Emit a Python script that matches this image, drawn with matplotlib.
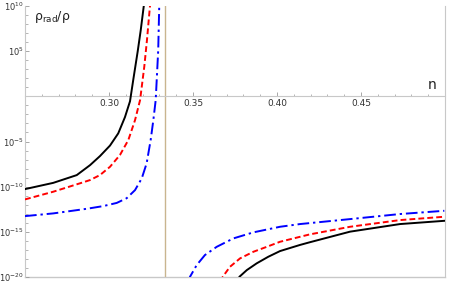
import numpy as np
from matplotlib import pyplot as plt
from matplotlib.ticker import (FixedLocator, FuncFormatter, MultipleLocator,
                               NullFormatter)

# values: n and log10(rho_rad/rho)
black_left_n = [0.2500, 0.2668, 0.2808, 0.2887, 0.2946, 0.3006, 0.3055, 0.3095,
                0.3125, 0.3145, 0.3171, 0.3189, 0.3207, 0.3215]
black_left_exp = [-10.27, -9.58, -8.72, -7.62, -6.62, -5.45, -4.10, -2.30,
                  -0.55, 1.90, 5.00, 7.34, 10.0, 11.5]
red_left_n = [0.2500, 0.2668, 0.2827, 0.2887, 0.2946, 0.3006, 0.3065, 0.3115,
              0.3155, 0.3185, 0.3210, 0.3226, 0.3240, 0.3244, 0.3248]
red_left_exp = [-11.41, -10.56, -9.63, -9.27, -8.72, -7.80, -6.50, -4.84,
                -2.63, -0.41, 3.28, 6.23, 9.19, 10.0, 11.0]
blue_left_n = [0.2500, 0.2668, 0.2867, 0.2966, 0.3046, 0.3105, 0.3155, 0.3195,
               0.3224, 0.3248, 0.3264, 0.3278, 0.3293, 0.3299, 0.3302]
blue_left_exp = [-13.26, -12.96, -12.45, -12.15, -11.80, -11.28, -10.38, -9.08,
                 -7.42, -4.84, -2.62, -0.41, 5.13, 10.0, 11.0]

black_right_n = [0.3762, 0.3776, 0.3820, 0.3879, 0.3948, 0.4018, 0.4137, 0.4196,
                 0.4435, 0.4732, 0.4996]
black_right_exp = [-21.0, -19.98, -19.24, -18.49, -17.76, -17.13, -16.45, -16.15,
                   -14.98, -14.14, -13.78]
red_right_n = [0.3662, 0.3677, 0.3720, 0.3780, 0.3859, 0.3939, 0.4018, 0.4137,
               0.4196, 0.4435, 0.4732, 0.4996]
red_right_exp = [-21.0, -19.98, -18.87, -17.94, -17.21, -16.66, -16.10, -15.55,
                 -15.28, -14.44, -13.70, -13.33]
blue_right_n = [0.3470, 0.3482, 0.3522, 0.3571, 0.3641, 0.3740, 0.3859, 0.4018,
                0.4137, 0.4435, 0.4732, 0.4996]
blue_right_exp = [-21.0, -19.98, -18.68, -17.57, -16.66, -15.73, -15.06, -14.44,
                  -14.14, -13.59, -13.03, -12.67]

asymptote = 1 / 3
x_ticks = [0.30, 0.35, 0.40, 0.45]
y_major = [-20, -15, -10, -5, 0, 5, 10]

fig = plt.figure(figsize=(4.54, 2.81), dpi=100)
ax = fig.add_axes([25 / 454, 4 / 281, 420 / 454, 271 / 281])

ax.set_yscale('log')
ax.set_xlim(0.25, 0.5)
ax.set_ylim(1e-20, 1e10)

ax.axvline(asymptote, color='#c9b58f', lw=1.0, zorder=1)

curves = [
    (black_left_n, black_left_exp, black_right_n, black_right_exp,
     dict(color='black', lw=1.4, ls='-')),
    (red_left_n, red_left_exp, red_right_n, red_right_exp,
     dict(color='#ff0000', lw=1.4, ls=(0, (3, 1.6)))),
    (blue_left_n, blue_left_exp, blue_right_n, blue_right_exp,
     dict(color='#0000ff', lw=1.4, ls=(0, (6, 2, 1.2, 2)))),
]
for ln, le, rn, re, style in curves:
    ax.plot(ln, 10.0 ** np.array(le), **style, zorder=3)
    ax.plot(rn, 10.0 ** np.array(re), **style, zorder=3)

# axis crossing at y = 1, frame lines in light gray
grey = '#c8c8c8'
ax.spines['top'].set_visible(False)
ax.spines['right'].set_color(grey)
ax.spines['left'].set_color(grey)
ax.spines['bottom'].set_position(('data', 1))
ax.spines['bottom'].set_color(grey)
ax.plot([0, 1], [0, 0], transform=ax.transAxes, color=grey, lw=1.0,
        clip_on=False, zorder=0)

ax.xaxis.set_major_locator(FixedLocator(x_ticks))
ax.xaxis.set_minor_locator(MultipleLocator(0.01))
ax.xaxis.set_major_formatter(FuncFormatter(lambda v, p: f"{v:.2f}"))
ax.yaxis.set_major_locator(FixedLocator([10.0 ** e for e in y_major]))
ax.yaxis.set_minor_locator(FixedLocator([10.0 ** e for e in range(-20, 11)]))
ax.yaxis.set_major_formatter(FuncFormatter(
    lambda v, p: "" if abs(v - 1) < 1e-9 else f"$10^{{{int(round(np.log10(v)))}}}$"))
ax.yaxis.set_minor_formatter(NullFormatter())

ax.tick_params(axis='both', which='both', direction='in', color='#999999',
               labelsize=6.5, labelcolor='#333333')
ax.tick_params(axis='both', which='major', length=3, width=0.6)
ax.tick_params(axis='both', which='minor', length=1.8, width=0.5)
ax.tick_params(axis='x', pad=2)
ax.tick_params(axis='y', pad=1, labelsize=6)

ax.text(0.969, 0.71, "n", transform=ax.transAxes, fontsize=10,
        ha='center', va='center', color='#222222')
ax.text(0.021, 0.96, r"$\mathregular{\rho_{rad}/\rho}$", transform=ax.transAxes,
        fontsize=9, ha='left', va='center', color='#222222')

fig.savefig("out.png", dpi=100)
